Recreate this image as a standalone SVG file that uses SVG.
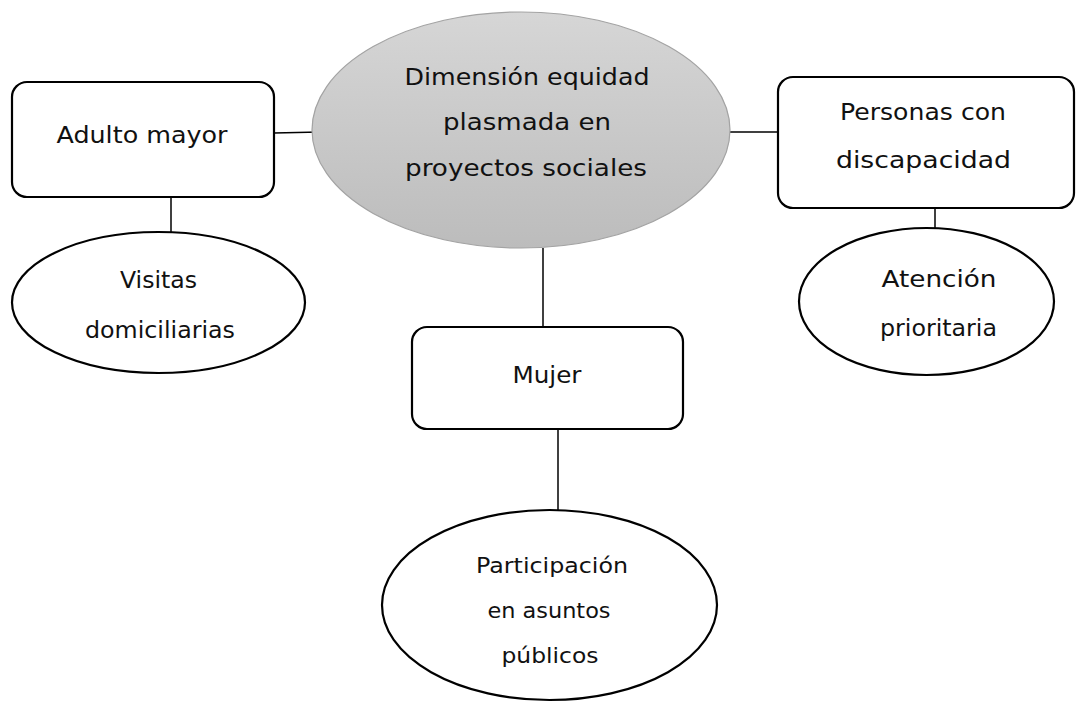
<svg xmlns="http://www.w3.org/2000/svg" width="1076" height="704" viewBox="0 0 1076 704">
<style>
.box{fill:#fff;stroke:#000;stroke-width:2.2}
.ell{fill:#fff;stroke:#000;stroke-width:2.2}
.edge{stroke:#000;stroke-width:1.5;fill:none}
text{font-family:"DejaVu Sans","Liberation Sans",sans-serif;font-size:23px;fill:#111;text-anchor:middle}
</style>
<defs>
<linearGradient id="g" x1="0" y1="0" x2="0" y2="1">
<stop offset="0" stop-color="#d6d6d6"/>
<stop offset="1" stop-color="#bcbcbc"/>
</linearGradient>
</defs>
<rect width="1076" height="704" fill="#fff"/>
<g id="connectors">
<line class="edge" x1="274" y1="133" x2="320" y2="132"/>
<line class="edge" x1="171" y1="197" x2="171" y2="232"/>
<line class="edge" x1="730" y1="132" x2="778" y2="132"/>
<line class="edge" x1="935" y1="197" x2="935" y2="228"/>
<line class="edge" x1="543" y1="248" x2="543" y2="327"/>
<line class="edge" x1="558" y1="429" x2="558" y2="510"/>
</g>
<g id="central">
<ellipse cx="521" cy="130" rx="209" ry="118" fill="url(#g)" stroke="#a3a3a3" stroke-width="1.2"/>
<text x="527" y="85" textLength="245" lengthAdjust="spacingAndGlyphs">Dimensión equidad</text>
<text x="527" y="130" textLength="168" lengthAdjust="spacingAndGlyphs">plasmada en</text>
<text x="526" y="176" textLength="242" lengthAdjust="spacingAndGlyphs">proyectos sociales</text>
</g>
<g id="adulto">
<rect class="box" x="12" y="82" width="262" height="115" rx="15"/>
<text x="142" y="143" textLength="171" lengthAdjust="spacingAndGlyphs">Adulto mayor</text>
</g>
<g id="visitas">
<ellipse class="ell" cx="158.5" cy="302.5" rx="146.5" ry="70.5"/>
<text x="158.5" y="288" textLength="77" lengthAdjust="spacingAndGlyphs">Visitas</text>
<text x="160" y="338" textLength="150" lengthAdjust="spacingAndGlyphs">domiciliarias</text>
</g>
<g id="personas">
<rect class="box" x="778" y="77" width="296" height="131" rx="15"/>
<text x="923" y="120" textLength="166" lengthAdjust="spacingAndGlyphs">Personas con</text>
<text x="923.5" y="168" textLength="175" lengthAdjust="spacingAndGlyphs">discapacidad</text>
</g>
<g id="atencion">
<ellipse class="ell" cx="926.5" cy="301.5" rx="127.5" ry="73.5"/>
<text x="939" y="287" textLength="115" lengthAdjust="spacingAndGlyphs">Atención</text>
<text x="938.5" y="336" textLength="117" lengthAdjust="spacingAndGlyphs">prioritaria</text>
</g>
<g id="mujer">
<rect class="box" x="412" y="327" width="271" height="102" rx="15"/>
<text x="547" y="383" textLength="69" lengthAdjust="spacingAndGlyphs">Mujer</text>
</g>
<g id="participacion">
<ellipse class="ell" cx="549.5" cy="605" rx="167.5" ry="95"/>
<text x="552" y="573" textLength="152" lengthAdjust="spacingAndGlyphs" style="font-size:21px">Participación</text>
<text x="549" y="618" textLength="123" lengthAdjust="spacingAndGlyphs" style="font-size:21px">en asuntos</text>
<text x="550" y="663" textLength="97" lengthAdjust="spacingAndGlyphs" style="font-size:21px">públicos</text>
</g>
</svg>
